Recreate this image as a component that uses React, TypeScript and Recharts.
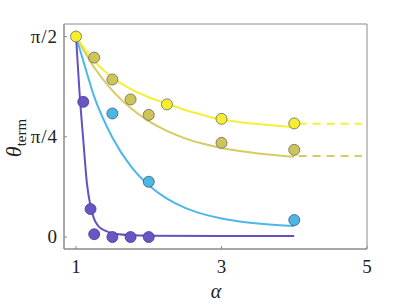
import React from 'react';
import { ComposedChart, Line, Scatter, XAxis, YAxis, ReferenceArea } from 'recharts';

const PI = Math.PI;

// fitted curves
const yellowCurve = [
  { x: 1, y: 1.571 }, { x: 1.25, y: 1.38 }, { x: 1.5, y: 1.25 }, { x: 1.75, y: 1.16 },
  { x: 2, y: 1.095 }, { x: 2.25, y: 1.045 }, { x: 2.5, y: 0.995 }, { x: 2.75, y: 0.955 },
  { x: 3, y: 0.92 }, { x: 3.25, y: 0.9 }, { x: 3.5, y: 0.885 }, { x: 3.75, y: 0.872 },
  { x: 4, y: 0.862 },
];
const oliveCurve = [
  { x: 1, y: 1.571 }, { x: 1.25, y: 1.328 }, { x: 1.5, y: 1.147 }, { x: 1.75, y: 1.01 },
  { x: 2, y: 0.908 }, { x: 2.25, y: 0.831 }, { x: 2.5, y: 0.773 }, { x: 2.75, y: 0.73 },
  { x: 3, y: 0.697 }, { x: 3.25, y: 0.673 }, { x: 3.5, y: 0.655 }, { x: 3.75, y: 0.641 },
  { x: 4, y: 0.628 },
];
const blueCurve = [
  { x: 1, y: 1.571 }, { x: 1.1, y: 1.38 }, { x: 1.25, y: 1.1 }, { x: 1.5, y: 0.78 },
  { x: 1.75, y: 0.557 }, { x: 2, y: 0.405 }, { x: 2.25, y: 0.3 }, { x: 2.5, y: 0.228 },
  { x: 2.75, y: 0.179 }, { x: 3, y: 0.145 }, { x: 3.25, y: 0.121 }, { x: 3.5, y: 0.105 },
  { x: 3.75, y: 0.094 }, { x: 4, y: 0.087 },
];
const purpleCurve = [
  { x: 1, y: 1.571 }, { x: 1.05, y: 1.12 }, { x: 1.1, y: 0.76 }, { x: 1.15, y: 0.42 },
  { x: 1.2, y: 0.24 }, { x: 1.25, y: 0.14 }, { x: 1.3, y: 0.09 }, { x: 1.4, y: 0.05 },
  { x: 1.5, y: 0.03 }, { x: 1.75, y: 0.015 }, { x: 2, y: 0.01 }, { x: 3, y: 0.008 },
  { x: 4, y: 0.008 },
];

// asymptotes beyond alpha = 4
const yellowDash = [{ x: 4.06, y: 0.887 }, { x: 4.93, y: 0.887 }];
const oliveDash = [{ x: 4.06, y: 0.634 }, { x: 4.93, y: 0.634 }];

// measured points
const yellowPts = [
  { x: 1, y: 1.571 }, { x: 2.25, y: 1.039 }, { x: 3, y: 0.926 }, { x: 4, y: 0.89 },
];
const olivePts = [
  { x: 1.25, y: 1.406 }, { x: 1.5, y: 1.234 }, { x: 1.75, y: 1.078 }, { x: 2, y: 0.957 },
  { x: 3, y: 0.738 }, { x: 4, y: 0.683 },
];
const bluePts = [{ x: 1.5, y: 0.968 }, { x: 2, y: 0.433 }, { x: 4, y: 0.133 }];
const purplePts = [
  { x: 1.1, y: 1.059 }, { x: 1.2, y: 0.219 }, { x: 1.25, y: 0.022 }, { x: 1.5, y: 0 },
  { x: 1.75, y: 0 }, { x: 2, y: 0 },
];

const xTicks = [1, 3, 5];
const yTicks = [0, PI / 4, PI / 2];
const yTickLabels = ['0', 'π/4', 'π/2'];
const xDomain = [0.835, 5];
const yDomain = [-0.094, 1.669];

const AXIS = '#8a8a8a';
const SERIF = 'Liberation Serif';

const dot = (fill: string, edge: string) => (p: any) => (
  <circle cx={p.cx} cy={p.cy} r={5.5} fill={fill} stroke={edge} strokeWidth={0.8} />
);

const BottomTick = (p: any) => (
  <g>
    <line x1={p.x} y1={p.y} x2={p.x} y2={p.y - 3} stroke={AXIS} />
    <text x={p.x} y={p.y + 24} textAnchor="middle" fontFamily={SERIF} fontSize={19} fill="#222">
      {p.payload.value}
    </text>
  </g>
);
const TopTick = (p: any) => <line x1={p.x} y1={p.y} x2={p.x} y2={p.y + 3} stroke={AXIS} />;
const LeftTick = (p: any) => {
  const i = yTicks.indexOf(p.payload.value);
  return (
    <g>
      <line x1={p.x} y1={p.y} x2={p.x + 3} y2={p.y} stroke={AXIS} />
      <text x={p.x - 6} y={p.y + 6} textAnchor="end" fontFamily={SERIF} fontSize={19} letterSpacing={1} fill="#222">
        {yTickLabels[i]}
      </text>
    </g>
  );
};
const RightTick = (p: any) => <line x1={p.x} y1={p.y} x2={p.x - 3} y2={p.y} stroke={AXIS} />;

export default function App() {
  return (
    <div style={{ position: 'absolute', left: 0, top: 0 }}>
      <ComposedChart width={407} height={306} margin={{ top: 24, right: 40, left: 0, bottom: 0 }}>
        <XAxis
          xAxisId="b" dataKey="x" type="number" domain={xDomain} ticks={xTicks}
          height={57} stroke={AXIS} tickSize={0} tickMargin={0} tickLine={false}
          tick={BottomTick} allowDataOverflow
          label={{
            content: () => (
              <text x={216} y={298} textAnchor="middle" fontFamily={SERIF} fontStyle="italic" fontSize={20} fill="#222">
                α
              </text>
            ),
          }}
        />
        <XAxis
          xAxisId="t" orientation="top" dataKey="x" type="number" domain={xDomain} ticks={xTicks}
          height={0} axisLine={false} tickSize={0} tickMargin={0} tickLine={false} tick={TopTick}
          allowDataOverflow
        />
        <YAxis
          yAxisId="l" type="number" domain={yDomain} ticks={yTicks} width={64}
          stroke={AXIS} tickSize={0} tickMargin={0} tickLine={false} tick={LeftTick} allowDataOverflow
          label={{
            content: () => (
              <text x={21} y={138} transform="rotate(-90 21 138)" textAnchor="middle" fontFamily={SERIF} fill="#222">
                <tspan fontStyle="italic" fontSize={22}>θ</tspan>
                <tspan fontSize={15} dy={5}>term</tspan>
              </text>
            ),
          }}
        />
        <YAxis
          yAxisId="r" orientation="right" type="number" domain={yDomain} ticks={yTicks} width={0}
          axisLine={false} tickSize={0} tickMargin={0} tickLine={false} tick={RightTick} allowDataOverflow
        />

        <ReferenceArea
          xAxisId="b" yAxisId="l" x1={xDomain[0]} x2={xDomain[1]} y1={yDomain[0]} y2={yDomain[1]}
          fill="none" fillOpacity={0} stroke={AXIS} strokeWidth={1} ifOverflow="visible"
        />

        <Line xAxisId="b" yAxisId="l" data={blueCurve} dataKey="y" type="monotone" stroke="#4cb8ea" strokeWidth={2} dot={false} isAnimationActive={false} />
        <Line xAxisId="b" yAxisId="l" data={purpleCurve} dataKey="y" type="monotone" stroke="#6650c0" strokeWidth={2} dot={false} isAnimationActive={false} />
        <Line xAxisId="b" yAxisId="l" data={oliveCurve} dataKey="y" type="monotone" stroke="#d6cc60" strokeWidth={2} dot={false} isAnimationActive={false} />
        <Line xAxisId="b" yAxisId="l" data={yellowCurve} dataKey="y" type="monotone" stroke="#f5ef35" strokeWidth={2} dot={false} isAnimationActive={false} />
        <Line xAxisId="b" yAxisId="l" data={oliveDash} dataKey="y" stroke="#d6cc60" strokeWidth={2} strokeDasharray="8 6" dot={false} isAnimationActive={false} />
        <Line xAxisId="b" yAxisId="l" data={yellowDash} dataKey="y" stroke="#f5ef35" strokeWidth={2} strokeDasharray="8 6" dot={false} isAnimationActive={false} />

        <Scatter xAxisId="b" yAxisId="l" data={purplePts} dataKey="y" shape={dot('#6a55c4', '#4a3a8e')} isAnimationActive={false} />
        <Scatter xAxisId="b" yAxisId="l" data={bluePts} dataKey="y" shape={dot('#4cb6e4', '#3a5a70')} isAnimationActive={false} />
        <Scatter xAxisId="b" yAxisId="l" data={olivePts} dataKey="y" shape={dot('#cfc457', '#666')} isAnimationActive={false} />
        <Scatter xAxisId="b" yAxisId="l" data={yellowPts} dataKey="y" shape={dot('#f5ee2f', '#666')} isAnimationActive={false} />
      </ComposedChart>
    </div>
  );
}
